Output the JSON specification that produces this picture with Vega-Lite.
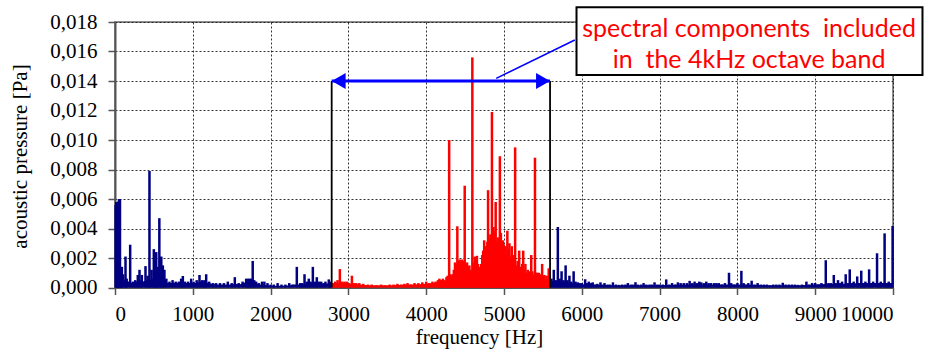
{
  "$schema": "https://vega.github.io/schema/vega-lite/v6.json",
  "width": 778,
  "height": 265.5,
  "autosize": "none",
  "padding": {"left": 115, "top": 22, "right": 32, "bottom": 65.5},
  "background": "white",
  "config": {"view": {"stroke": "#8c8c8c", "strokeWidth": 2}, "font": "Liberation Serif",
    "locale": {"number": {"decimal": ",", "thousands": " ", "grouping": [3], "currency": ["", ""]}},
    "axis": {"labelOverlap": false, "labelSeparation": 0, "labelBound": false}},
  "datasets": {
    "floor": [
      {"f":0,"p":0.0002},{"f":10,"p":0.0005},{"f":70,"p":0.001},{"f":85,"p":0.0009},{"f":100,"p":0.0007},{"f":120,"p":0.0005},{"f":150,"p":0.0004},{"f":180,"p":0.0004},{"f":210,"p":0.0003},{"f":250,"p":0.0004},{"f":280,"p":0.0004},{"f":320,"p":0.0005},{"f":360,"p":0.0004},{"f":400,"p":0.0005},{"f":450,"p":0.0005},{"f":480,"p":0.0006},{"f":520,"p":0.0007},{"f":560,"p":0.0007},{"f":600,"p":0.0006},{"f":640,"p":0.0005},{"f":680,"p":0.0003},{"f":720,"p":0.0003},{"f":760,"p":0.0003},{"f":800,"p":0.0003},{"f":850,"p":0.0004},{"f":900,"p":0.0003},{"f":950,"p":0.0003},{"f":1000,"p":0.0003},{"f":1050,"p":0.0003},{"f":1100,"p":0.0004},{"f":1150,"p":0.0004},{"f":1200,"p":0.0003},{"f":1250,"p":0.00025},{"f":1300,"p":0.0002},{"f":1400,"p":0.0002},{"f":1500,"p":0.0002},{"f":1550,"p":0.00025},{"f":1600,"p":0.0002},{"f":1650,"p":0.0003},{"f":1700,"p":0.0004},{"f":1750,"p":0.0004},{"f":1800,"p":0.0003},{"f":1850,"p":0.0002},{"f":1950,"p":0.00015},{"f":2050,"p":0.00012},{"f":2150,"p":0.00012},{"f":2250,"p":0.00015},{"f":2300,"p":0.0002},{"f":2400,"p":0.0002},{"f":2500,"p":0.00025},{"f":2600,"p":0.0002},{"f":2700,"p":0.00025},{"f":2785,"p":0.0003},{"f":2850,"p":0.0003},{"f":2950,"p":0.0003},{"f":3050,"p":0.00025},{"f":3150,"p":0.0002},{"f":3250,"p":0.00015},{"f":3400,"p":0.00015},{"f":3550,"p":0.00015},{"f":3700,"p":0.00018},{"f":3800,"p":0.0002},{"f":3900,"p":0.00022},{"f":4000,"p":0.00025},{"f":4100,"p":0.0003},{"f":4200,"p":0.0004},{"f":4300,"p":0.0005},{"f":4400,"p":0.0007},{"f":4500,"p":0.0008},{"f":4600,"p":0.0009},{"f":4700,"p":0.001},{"f":4800,"p":0.0012},{"f":4900,"p":0.0012},{"f":5000,"p":0.0011},{"f":5100,"p":0.001},{"f":5200,"p":0.0008},{"f":5300,"p":0.0007},{"f":5400,"p":0.0006},{"f":5500,"p":0.0005},{"f":5592,"p":0.0005},{"f":5650,"p":0.0004},{"f":5750,"p":0.0004},{"f":5850,"p":0.0003},{"f":5950,"p":0.00025},{"f":6050,"p":0.0002},{"f":6200,"p":0.00018},{"f":6400,"p":0.00015},{"f":6600,"p":0.00015},{"f":6800,"p":0.00015},{"f":7000,"p":0.00015},{"f":7200,"p":0.00018},{"f":7400,"p":0.0002},{"f":7600,"p":0.0002},{"f":7800,"p":0.0002},{"f":8000,"p":0.0002},{"f":8200,"p":0.00018},{"f":8400,"p":0.00015},{"f":8600,"p":0.00015},{"f":8800,"p":0.00015},{"f":9000,"p":0.0002},{"f":9200,"p":0.00025},{"f":9400,"p":0.00025},{"f":9600,"p":0.0003},{"f":9800,"p":0.0003},{"f":10000,"p":0.0003}
    ],
    "spectrum": [
      {"f":8,"p":0.0056},{"f":16,"p":0.0058},{"f":24,"p":0.0057},{"f":32,"p":0.0056},{"f":40,"p":0.0058},{"f":48,"p":0.0059},{"f":56,"p":0.006},{"f":64,"p":0.006},{"f":72,"p":0.0012},{"f":88,"p":0.0014},{"f":104,"p":0.0009},{"f":135,"p":0.0021},{"f":150,"p":0.0006},{"f":195,"p":0.0029},{"f":230,"p":0.0004},{"f":260,"p":0.0005},{"f":293,"p":0.00085},{"f":315,"p":0.0012},{"f":345,"p":0.00085},{"f":392,"p":0.00145},{"f":420,"p":0.0008},{"f":443,"p":0.0079},{"f":470,"p":0.0012},{"f":499,"p":0.0026},{"f":515,"p":0.0015},{"f":530,"p":0.0024},{"f":550,"p":0.0014},{"f":570,"p":0.0047},{"f":595,"p":0.0021},{"f":615,"p":0.0015},{"f":635,"p":0.0012},{"f":660,"p":0.0006},{"f":700,"p":0.0004},{"f":740,"p":0.0005},{"f":780,"p":0.0004},{"f":820,"p":0.0004},{"f":850,"p":0.0006},{"f":872,"p":0.00078},{"f":900,"p":0.0004},{"f":940,"p":0.0004},{"f":979,"p":0.0006},{"f":1010,"p":0.0004},{"f":1050,"p":0.0005},{"f":1086,"p":0.00085},{"f":1120,"p":0.0005},{"f":1150,"p":0.0005},{"f":1172,"p":0.0009},{"f":1210,"p":0.0004},{"f":1260,"p":0.0003},{"f":1300,"p":0.0003},{"f":1350,"p":0.0003},{"f":1400,"p":0.0003},{"f":1450,"p":0.0004},{"f":1500,"p":0.0003},{"f":1540,"p":0.0007},{"f":1590,"p":0.0003},{"f":1640,"p":0.0004},{"f":1686,"p":0.0006},{"f":1710,"p":0.0006},{"f":1730,"p":0.0006},{"f":1750,"p":0.0006},{"f":1770,"p":0.0018},{"f":1790,"p":0.0005},{"f":1815,"p":0.0004},{"f":1850,"p":0.0003},{"f":1890,"p":0.0004},{"f":1920,"p":0.0004},{"f":1960,"p":0.0003},{"f":2000,"p":0.0002},{"f":2040,"p":0.0002},{"f":2090,"p":0.0003},{"f":2140,"p":0.0002},{"f":2190,"p":0.0002},{"f":2240,"p":0.0003},{"f":2280,"p":0.0002},{"f":2337,"p":0.0014},{"f":2380,"p":0.0003},{"f":2405,"p":0.0003},{"f":2436,"p":0.0009},{"f":2465,"p":0.0004},{"f":2491,"p":0.0006},{"f":2515,"p":0.0004},{"f":2543,"p":0.0014},{"f":2570,"p":0.0004},{"f":2594,"p":0.0007},{"f":2620,"p":0.0004},{"f":2650,"p":0.0004},{"f":2680,"p":0.0003},{"f":2705,"p":0.0004},{"f":2748,"p":0.00055},{"f":2770,"p":0.0004},
      {"f":2800,"p":0.0003},{"f":2830,"p":0.0004},{"f":2860,"p":0.0005},{"f":2890,"p":0.00125},{"f":2920,"p":0.0004},{"f":2950,"p":0.0004},{"f":2980,"p":0.0004},{"f":3005,"p":0.0003},{"f":3045,"p":0.0008},{"f":3070,"p":0.0003},{"f":3100,"p":0.0003},{"f":3140,"p":0.0003},{"f":3190,"p":0.00025},{"f":3250,"p":0.0002},{"f":3300,"p":0.0002},{"f":3360,"p":0.00015},{"f":3420,"p":0.0002},{"f":3470,"p":0.00015},{"f":3530,"p":0.0002},{"f":3580,"p":0.0002},{"f":3630,"p":0.00025},{"f":3680,"p":0.0002},{"f":3720,"p":0.00025},{"f":3760,"p":0.0003},{"f":3800,"p":0.0002},{"f":3850,"p":0.0003},{"f":3900,"p":0.0003},{"f":3950,"p":0.00035},{"f":4000,"p":0.0004},{"f":4040,"p":0.0003},{"f":4080,"p":0.0004},{"f":4120,"p":0.0004},{"f":4150,"p":0.0005},{"f":4170,"p":0.0006},{"f":4190,"p":0.0005},
      {"f":4200,"p":0.0005},{"f":4215,"p":0.0006},{"f":4230,"p":0.0004},{"f":4245,"p":0.0005},{"f":4260,"p":0.0007},{"f":4275,"p":0.0008},{"f":4295,"p":0.01},{"f":4310,"p":0.0009},{"f":4325,"p":0.0008},{"f":4340,"p":0.0009},{"f":4355,"p":0.0012},{"f":4370,"p":0.0017},{"f":4385,"p":0.0016},{"f":4400,"p":0.00415},{"f":4415,"p":0.0018},{"f":4430,"p":0.0019},{"f":4445,"p":0.0017},{"f":4460,"p":0.0019},{"f":4475,"p":0.0018},{"f":4495,"p":0.0069},{"f":4510,"p":0.0016},{"f":4525,"p":0.0017},{"f":4540,"p":0.0014},{"f":4555,"p":0.0015},{"f":4570,"p":0.0012},{"f":4593,"p":0.0156},{"f":4610,"p":0.0017},{"f":4625,"p":0.0021},{"f":4640,"p":0.0018},{"f":4652,"p":0.00215},{"f":4665,"p":0.0016},{"f":4680,"p":0.0014},{"f":4692,"p":0.0013},{"f":4705,"p":0.0016},{"f":4720,"p":0.0022},{"f":4732,"p":0.0025},{"f":4745,"p":0.0032},{"f":4757,"p":0.0021},{"f":4767,"p":0.0028},{"f":4777,"p":0.0024},{"f":4786,"p":0.0031},{"f":4795,"p":0.0066},{"f":4805,"p":0.0033},{"f":4815,"p":0.0028},{"f":4825,"p":0.0036},{"f":4835,"p":0.003},{"f":4845,"p":0.0119},{"f":4855,"p":0.0035},{"f":4865,"p":0.0041},{"f":4875,"p":0.0032},{"f":4884,"p":0.0038},{"f":4893,"p":0.0058},{"f":4905,"p":0.0031},{"f":4915,"p":0.0024},{"f":4925,"p":0.0034},{"f":4936,"p":0.0027},{"f":4947,"p":0.0089},{"f":4960,"p":0.0037},{"f":4972,"p":0.0026},{"f":4985,"p":0.0032},{"f":4998,"p":0.0029},{"f":5010,"p":0.0024},{"f":5020,"p":0.0028},{"f":5031,"p":0.0022},{"f":5043,"p":0.00385},{"f":5055,"p":0.0026},{"f":5070,"p":0.003},{"f":5085,"p":0.0021},{"f":5100,"p":0.0028},{"f":5115,"p":0.0019},{"f":5127,"p":0.0022},{"f":5143,"p":0.0095},{"f":5160,"p":0.0015},{"f":5175,"p":0.0018},{"f":5195,"p":0.0025},{"f":5208,"p":0.0014},{"f":5220,"p":0.0013},{"f":5234,"p":0.0016},{"f":5247,"p":0.0025},{"f":5260,"p":0.0012},{"f":5275,"p":0.0016},{"f":5290,"p":0.001},{"f":5305,"p":0.0012},{"f":5320,"p":0.0011},{"f":5335,"p":0.0009},{"f":5350,"p":0.0022},{"f":5365,"p":0.0011},{"f":5380,"p":0.0009},{"f":5398,"p":0.0088},{"f":5412,"p":0.001},{"f":5425,"p":0.001},{"f":5437,"p":0.0008},{"f":5448,"p":0.001},{"f":5465,"p":0.0007},{"f":5478,"p":0.0009},{"f":5490,"p":0.0016},{"f":5505,"p":0.0008},{"f":5520,"p":0.00085},{"f":5535,"p":0.0006},{"f":5548,"p":0.0008},{"f":5562,"p":0.0005},{"f":5575,"p":0.0013},{"f":5587,"p":0.0006},
      {"f":5610,"p":0.0006},{"f":5640,"p":0.0012},{"f":5665,"p":0.0005},{"f":5692,"p":0.0041},{"f":5715,"p":0.0006},{"f":5740,"p":0.0011},{"f":5765,"p":0.0005},{"f":5792,"p":0.0015},{"f":5815,"p":0.0005},{"f":5841,"p":0.0008},{"f":5865,"p":0.0004},{"f":5895,"p":0.0011},{"f":5920,"p":0.0004},{"f":5949,"p":0.00035},{"f":5975,"p":0.0003},{"f":6000,"p":0.0003},{"f":6043,"p":0.00056},{"f":6070,"p":0.0003},{"f":6090,"p":0.0004},{"f":6115,"p":0.0003},{"f":6140,"p":0.00035},{"f":6170,"p":0.0002},{"f":6200,"p":0.00025},{"f":6240,"p":0.00035},{"f":6270,"p":0.0002},{"f":6292,"p":0.0003},{"f":6330,"p":0.0002},{"f":6360,"p":0.0002},{"f":6400,"p":0.00035},{"f":6440,"p":0.0002},{"f":6480,"p":0.00018},{"f":6520,"p":0.0002},{"f":6560,"p":0.0002},{"f":6592,"p":0.0003},{"f":6630,"p":0.0002},{"f":6660,"p":0.0002},{"f":6690,"p":0.00036},{"f":6720,"p":0.0002},{"f":6760,"p":0.0002},{"f":6794,"p":0.0003},{"f":6830,"p":0.0002},{"f":6870,"p":0.0002},{"f":6900,"p":0.0002},{"f":6935,"p":0.00035},{"f":6970,"p":0.0002},{"f":7000,"p":0.0002},{"f":7040,"p":0.0002},{"f":7085,"p":0.00055},{"f":7120,"p":0.0002},{"f":7160,"p":0.0003},{"f":7200,"p":0.0002},{"f":7235,"p":0.00035},{"f":7270,"p":0.0003},{"f":7310,"p":0.0003},{"f":7350,"p":0.0003},{"f":7386,"p":0.00045},{"f":7420,"p":0.0003},{"f":7450,"p":0.0004},{"f":7480,"p":0.0003},{"f":7510,"p":0.0004},{"f":7536,"p":0.00035},{"f":7570,"p":0.0003},{"f":7600,"p":0.0004},{"f":7630,"p":0.0003},{"f":7660,"p":0.0003},{"f":7700,"p":0.0003},{"f":7730,"p":0.0003},{"f":7760,"p":0.0003},{"f":7800,"p":0.0002},{"f":7840,"p":0.0003},{"f":7892,"p":0.001},{"f":7920,"p":0.0003},{"f":7960,"p":0.0002},{"f":8000,"p":0.0003},{"f":8051,"p":0.00113},{"f":8080,"p":0.0003},{"f":8110,"p":0.0002},{"f":8140,"p":0.0003},{"f":8183,"p":0.00046},{"f":8220,"p":0.0002},{"f":8260,"p":0.0003},{"f":8300,"p":0.0002},{"f":8340,"p":0.0002},{"f":8380,"p":0.0002},{"f":8420,"p":0.00015},{"f":8460,"p":0.0002},{"f":8500,"p":0.0002},{"f":8540,"p":0.0002},{"f":8583,"p":0.00032},{"f":8620,"p":0.0002},{"f":8660,"p":0.0002},{"f":8700,"p":0.0002},{"f":8740,"p":0.0002},{"f":8780,"p":0.00018},{"f":8830,"p":0.0002},{"f":8887,"p":0.0004},{"f":8920,"p":0.0002},{"f":8960,"p":0.0003},{"f":9000,"p":0.0003},{"f":9040,"p":0.0002},{"f":9080,"p":0.0003},{"f":9136,"p":0.00185},{"f":9170,"p":0.0003},{"f":9200,"p":0.0003},{"f":9239,"p":0.00085},{"f":9265,"p":0.0003},{"f":9293,"p":0.0005},{"f":9320,"p":0.0003},{"f":9345,"p":0.0004},{"f":9392,"p":0.0009},{"f":9420,"p":0.0003},{"f":9444,"p":0.00123},{"f":9470,"p":0.0003},{"f":9495,"p":0.0004},{"f":9540,"p":0.00075},{"f":9565,"p":0.0003},{"f":9592,"p":0.00114},{"f":9620,"p":0.0003},{"f":9645,"p":0.0004},{"f":9693,"p":0.00123},{"f":9720,"p":0.0003},{"f":9745,"p":0.0004},{"f":9795,"p":0.00232},{"f":9820,"p":0.0003},{"f":9843,"p":0.0004},{"f":9892,"p":0.00367},{"f":9920,"p":0.0003},{"f":9945,"p":0.0004},{"f":9970,"p":0.0003},{"f":9995,"p":0.00418}
    ],
    "band": [{"f1":2785,"f2":5592,"p":0.014}]
  },
  "layer": [
    {
      "data": {"name": "floor"},
      "transform": [{"filter": "datum.f <= 2785"}],
      "mark": {"type": "area", "color": "#000080"},
      "encoding": {
        "x": {"field": "f", "type": "quantitative", "title": "frequency [Hz]",
          "scale": {"domain": [0, 10000], "nice": false, "zero": false},
          "axis": {"values": [0,1000,2000,3000,4000,5000,6000,7000,8000,9000,10000], "format": "d", "labelOverlap": false,
            "grid": true, "gridColor": "#111", "gridDash": [2, 2], "gridWidth": 1, "gridOpacity": 0.85,
            "domainColor": "#555", "domainWidth": 2, "tickColor": "#555", "tickWidth": 1.5, "tickSize": 7,
            "labelFont": "Liberation Serif", "labelFontSize": 21, "labelColor": "#000", "labelPadding": 9,
            "titleFont": "Liberation Serif", "titleFontSize": 21, "titleFontWeight": "normal", "titleColor": "#000",
            "titleX": 364, "titleY": 56, "titleBaseline": "alphabetic", "titleAlign": "center"}},
        "y": {"field": "p", "type": "quantitative", "title": "acoustic pressure [Pa]",
          "scale": {"domain": [0, 0.018], "nice": false},
          "axis": {"tickCount": 9, "format": ".3f", "labelOverlap": false,
            "grid": true, "gridColor": "#111", "gridDash": [2, 2], "gridWidth": 1, "gridOpacity": 0.85,
            "domainColor": "#555", "domainWidth": 2, "tickColor": "#555", "tickWidth": 1.5, "tickSize": 7,
            "labelFont": "Liberation Serif", "labelFontSize": 21, "labelColor": "#000", "labelPadding": 11,
            "titleFont": "Liberation Serif", "titleFontSize": 21, "titleFontWeight": "normal", "titleColor": "#000",
            "titleX": -95, "titleY": 134, "titleAngle": -90, "titleBaseline": "middle", "titleAlign": "center"}}
      }
    },
    {
      "data": {"name": "floor"},
      "transform": [{"filter": "datum.f >= 2785 && datum.f <= 5592"}],
      "mark": {"type": "area", "color": "#ff0000"},
      "encoding": {
        "x": {"field": "f", "type": "quantitative", "title": "frequency [Hz]"},
        "y": {"field": "p", "type": "quantitative", "title": "acoustic pressure [Pa]"}
      }
    },
    {
      "data": {"name": "floor"},
      "transform": [{"filter": "datum.f >= 5592"}],
      "mark": {"type": "area", "color": "#000080"},
      "encoding": {
        "x": {"field": "f", "type": "quantitative", "title": "frequency [Hz]"},
        "y": {"field": "p", "type": "quantitative", "title": "acoustic pressure [Pa]"}
      }
    },
    {
      "data": {"name": "spectrum"},
      "mark": {"type": "rule", "strokeWidth": 2.5},
      "encoding": {
        "x": {"field": "f", "type": "quantitative", "title": "frequency [Hz]"},
        "y": {"field": "p", "type": "quantitative", "title": "acoustic pressure [Pa]"},
        "y2": {"datum": 0},
        "color": {"condition": {"test": "datum.f > 2785 && datum.f < 5592", "value": "#ff0000"}, "value": "#000080"}
      }
    },
    {
      "data": {"name": "band"},
      "mark": {"type": "rule", "color": "#000", "strokeWidth": 1.8},
      "encoding": {
        "x": {"field": "f1", "type": "quantitative", "title": "frequency [Hz]"},
        "y": {"field": "p", "type": "quantitative", "title": "acoustic pressure [Pa]"},
        "y2": {"datum": 0}
      }
    },
    {
      "data": {"name": "band"},
      "mark": {"type": "rule", "color": "#000", "strokeWidth": 1.8},
      "encoding": {
        "x": {"field": "f2", "type": "quantitative", "title": "frequency [Hz]"},
        "y": {"field": "p", "type": "quantitative", "title": "acoustic pressure [Pa]"},
        "y2": {"datum": 0}
      }
    },
    {
      "data": {"name": "band"},
      "mark": {"type": "rule", "color": "#0000ff", "strokeWidth": 3},
      "encoding": {
        "x": {"field": "f1", "type": "quantitative", "title": "frequency [Hz]"},
        "x2": {"field": "f2"},
        "y": {"field": "p", "type": "quantitative", "title": "acoustic pressure [Pa]"}
      }
    },
    {
      "data": {"name": "band"},
      "mark": {"type": "point", "shape": "triangle-left", "filled": true, "size": 260, "color": "#0000ff", "opacity": 1, "xOffset": 7},
      "encoding": {
        "x": {"field": "f1", "type": "quantitative", "title": "frequency [Hz]"},
        "y": {"field": "p", "type": "quantitative", "title": "acoustic pressure [Pa]"}
      }
    },
    {
      "data": {"name": "band"},
      "mark": {"type": "point", "shape": "triangle-right", "filled": true, "size": 260, "color": "#0000ff", "opacity": 1, "xOffset": -7},
      "encoding": {
        "x": {"field": "f2", "type": "quantitative", "title": "frequency [Hz]"},
        "y": {"field": "p", "type": "quantitative", "title": "acoustic pressure [Pa]"}
      }
    },
    {
      "data": {"values": [{}]},
      "mark": {"type": "rule", "color": "#0000ff", "strokeWidth": 1.5},
      "encoding": {
        "x": {"datum": 4900, "type": "quantitative", "title": "frequency [Hz]"},
        "x2": {"datum": 5910},
        "y": {"datum": 0.01418, "type": "quantitative", "title": "acoustic pressure [Pa]"},
        "y2": {"datum": 0.01678}
      }
    },
    {
      "data": {"values": [{}]},
      "mark": {"type": "rect", "fill": "#ffffff", "stroke": "#000", "strokeWidth": 2},
      "encoding": {
        "x": {"datum": 5932, "type": "quantitative", "title": "frequency [Hz]"},
        "x2": {"datum": 10379},
        "y": {"datum": 0.01441, "type": "quantitative", "title": "acoustic pressure [Pa]"},
        "y2": {"datum": 0.0190}
      }
    },
    {
      "data": {"values": [{"t": "spectral components\u00a0 included", "f": 8150, "p": 0.0170}, {"t": "in\u00a0 the 4kHz octave band", "f": 8150, "p": 0.01486}]},
      "mark": {"type": "text", "font": "Lato", "fontSize": 25, "color": "#ff0000", "align": "center", "baseline": "alphabetic"},
      "encoding": {
        "x": {"field": "f", "type": "quantitative", "title": "frequency [Hz]"},
        "y": {"field": "p", "type": "quantitative", "title": "acoustic pressure [Pa]"},
        "text": {"field": "t"}
      }
    }
  ]
}
